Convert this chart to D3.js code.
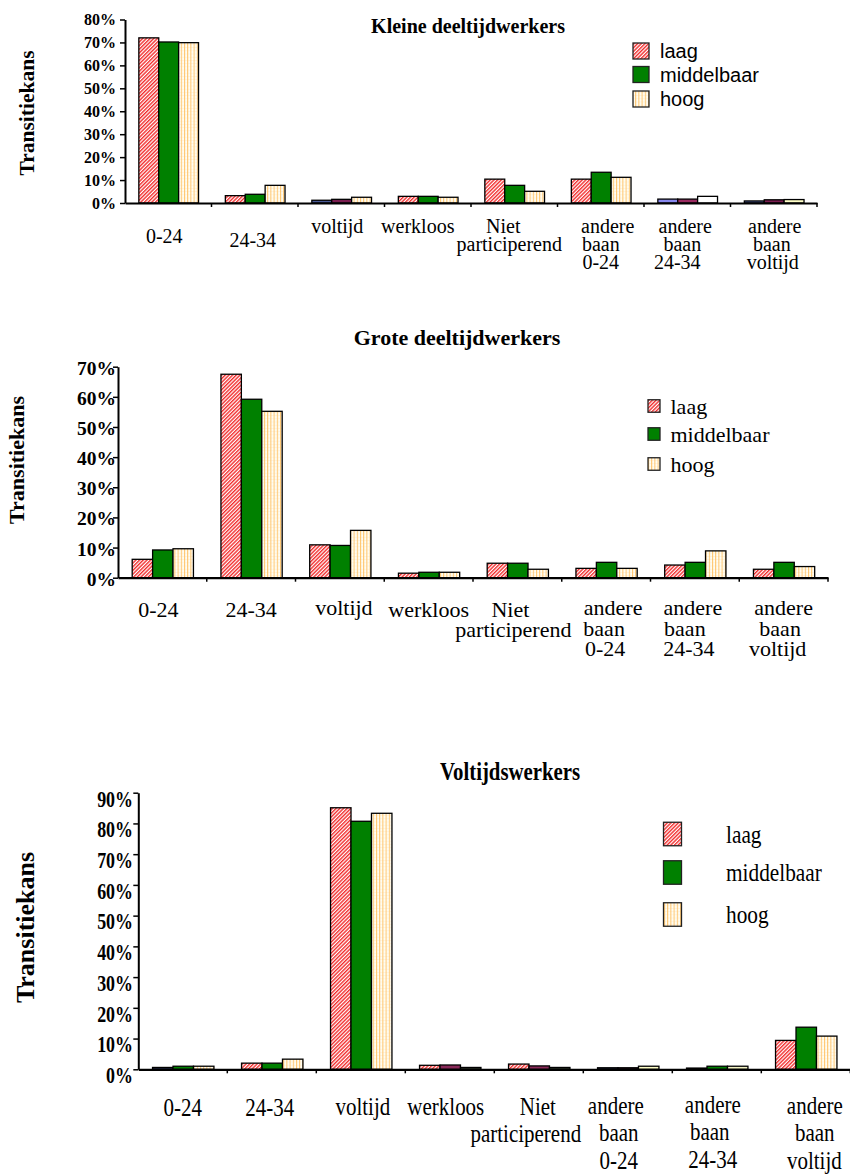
<!DOCTYPE html>
<html>
<head>
<meta charset="utf-8">
<script src="https://cdn.jsdelivr.net/npm/d3@7"></script>
<style>
  html, body { margin: 0; padding: 0; background: #fff; }
  svg { display: block; }
</style>
</head>
<body>
<svg id="chart" width="850" height="1175"></svg>
<script>
// ---------------- DATA ----------------
const categories = ["0-24", "24-34", "voltijd", "werkloos", "Niet participerend",
  "andere baan 0-24", "andere baan 24-34", "andere baan voltijd"];
const categoryLines = [["0-24"], ["24-34"], ["voltijd"], ["werkloos"], ["Niet", "participerend"],
  ["andere", "baan", "0-24"], ["andere", "baan", "24-34"], ["andere", "baan", "voltijd"]];
const seriesNames = ["laag", "middelbaar", "hoog"];

// Kleine deeltijdwerkers (%)
const kleineLaag       = [72.0, 3.2, 1.2, 2.9, 10.4, 10.4, 1.7, 0.9];
const kleineMiddelbaar = [70.2, 3.8, 1.6, 2.9,  7.7, 13.4, 1.7, 1.4];
const kleineHoog       = [69.9, 7.7, 2.5, 2.5,  5.1, 11.2, 2.9, 1.5];

// Grote deeltijdwerkers (%)
const groteLaag       = [6.1, 67.5, 10.9, 1.5, 4.8, 3.1, 4.2, 2.8];
const groteMiddelbaar = [9.2, 59.2, 10.7, 1.8, 4.8, 5.1, 5.1, 5.1];
const groteHoog       = [9.6, 55.2, 15.7, 1.8, 2.8, 3.1, 8.9, 3.7];

// Voltijdswerkers (%)
const voltijdLaag       = [0.6, 2.0, 85.1, 1.3, 1.7, 0.5, 0.4,  9.4];
const voltijdMiddelbaar = [1.0, 2.0, 80.7, 1.4, 1.1, 0.5, 1.0, 13.7];
const voltijdHoog       = [1.0, 3.3, 83.3, 0.6, 0.6, 1.0, 1.0, 10.8];

const ticksKleine  = [0, 10, 20, 30, 40, 50, 60, 70, 80];
const ticksGrote   = [0, 10, 20, 30, 40, 50, 60, 70];
const ticksVoltijd = [0, 10, 20, 30, 40, 50, 60, 70, 80, 90];

const titles = ["Kleine deeltijdwerkers", "Grote deeltijdwerkers", "Voltijdswerkers"];
const yTitle = "Transitiekans";

// ---------------- STYLE / LAYOUT ----------------
const svg = d3.select("#chart");
const defs = svg.append("defs");

// laag: red diagonal hatch
const pL = defs.append("pattern").attr("id", "patLaag").attr("patternUnits", "userSpaceOnUse")
  .attr("width", 2.6).attr("height", 2.6).attr("patternTransform", "rotate(45)");
pL.append("rect").attr("width", 2.6).attr("height", 2.6).attr("fill", "#ffffff");
pL.append("rect").attr("width", 1.4).attr("height", 2.6).attr("fill", "#f22c2c");
// hoog: cream with orange vertical lines
const pH = defs.append("pattern").attr("id", "patHoog").attr("patternUnits", "userSpaceOnUse")
  .attr("width", 3.2).attr("height", 3.2);
pH.append("rect").attr("width", 3.2).attr("height", 3.2).attr("fill", "#fffdf2");
pH.append("rect").attr("y", 2.4).attr("width", 3.2).attr("height", 0.6).attr("fill", "#fff0d6");
pH.append("rect").attr("x", 1.6).attr("width", 1).attr("height", 3.2).attr("fill", "#ffc46a");

const fills = ["url(#patLaag)", "#008000", "url(#patHoog)"];

const SERIF = "'Liberation Serif', 'Times New Roman', serif";
const SANS = "'Liberation Sans', Arial, sans-serif";

const charts = [
  {
    title: titles[0], values: [kleineLaag, kleineMiddelbaar, kleineHoog], ticks: ticksKleine,
    max: 80, x0: 125, x1: 817, yTop: 19.5, yBot: 203,
    titleX: 468, titleY: 33, titleSize: 20, titleScale: 1,
    yTitleX: 34, yTitleY: 113, yTitleSize: 21.5,
    tickSize: 16, tickScale: 1, tickEnd: 116, tickDy: 0, tickBold: true,
    labelSize: 20, labelScale: 1, lineH: 18,
    labelY: [242.5, 246.5, 233, 233, 233, 233, 233, 233],
    labelDx: [[-4], [-2], [-4], [-10], [-11, -5], [7, 0, 0], [-2, -5, -10], [1, -2, -1]],
    overrides: [[2, 0, "#4a5a96"], [2, 1, "#7a1e50"], [6, 0, "#8888ee"], [6, 1, "#9a2a60"],
                [6, 2, "#ffffff"], [7, 0, "#4a5a96"], [7, 1, "#7a1e50"], [7, 2, "#ffffc8"]],
    legend: { sx: 633, sw: 16, sh: 16, rows: [51, 74.5, 99], tx: 660, font: SANS, size: 20, scale: 1 }
  },
  {
    title: titles[1], values: [groteLaag, groteMiddelbaar, groteHoog], ticks: ticksGrote,
    max: 70, x0: 118, x1: 828, yTop: 366.7, yBot: 577.7,
    titleX: 457, titleY: 344.5, titleSize: 22, titleScale: 1,
    yTitleX: 24, yTitleY: 460, yTitleSize: 22,
    tickSize: 19.5, tickScale: 1, tickEnd: 116, tickDy: 1.5, tickBold: true,
    labelSize: 22, labelScale: 1, lineH: 20.5,
    labelY: [616.5, 616.5, 615, 616.5, 616.5, 615, 615, 615],
    labelDx: [[-4], [0], [4], [0], [-7, -4], [7, -2, -1], [-2, -10, -6], [0, -3.5, -6]],
    overrides: [],
    legend: { sx: 648, sw: 12, sh: 12.5, rows: [406, 434, 464], tx: 670.5, font: SERIF, size: 22, scale: 1 }
  },
  {
    title: titles[2], values: [voltijdLaag, voltijdMiddelbaar, voltijdHoog], ticks: ticksVoltijd,
    max: 90, x0: 138.3, x1: 850.3, yTop: 792.7, yBot: 1069.3,
    titleX: 510, titleY: 780, titleSize: 26, titleScale: 0.8,
    yTitleX: 34, yTitleY: 927.5, yTitleSize: 26,
    tickSize: 23, tickScale: 0.78, tickEnd: 133, tickDy: 6, tickBold: true,
    labelSize: 25, labelScale: 0.84, lineH: 27.5,
    labelY: [1116, 1116, 1115, 1115, 1115, 1114, 1113, 1114],
    labelDx: [[0], [-2], [2], [-4], [-1, -13], [-12, -9, -9], [-4, -7, -4], [9, 9, 8.5]],
    overrides: [[0, 0, "#303a60"], [3, 1, "#8a2a5a"], [3, 2, "#404838"], [4, 1, "#8a2a5a"],
                [4, 2, "#404838"], [5, 0, "#282e50"], [5, 1, "#3a1028"], [5, 2, "#ffffc8"],
                [6, 0, "#303a60"], [6, 2, "#f4f4c4"]],
    legend: { sx: 663.5, sw: 18, sh: 23.5, rows: [834, 872.5, 914.5], tx: 726, font: SERIF, size: 26, scale: 0.82 }
  }
];

function scaledText(g, str, x, y, opts) {
  return g.append("text")
    .attr("transform", `translate(${x},${y}) scale(${opts.scale || 1},1)`)
    .attr("font-family", opts.font || SERIF)
    .attr("font-size", opts.size)
    .attr("font-weight", opts.bold ? "bold" : "normal")
    .attr("text-anchor", opts.anchor || "start")
    .attr("fill", "#000")
    .text(str);
}

charts.forEach(cfg => {
  const g = svg.append("g");
  const x = d3.scaleBand().domain(categories).range([cfg.x0, cfg.x1]).padding(0);
  const bw = x.bandwidth();
  const xs = d3.scaleBand().domain(seriesNames).range([bw * 0.16, bw * 0.85]).padding(0);
  const y = d3.scaleLinear().domain([0, cfg.max]).range([cfg.yBot, cfg.yTop]);
  const ov = new Map(cfg.overrides.map(o => [o[0] + "_" + o[1], o[2]]));

  // bars
  seriesNames.forEach((s, si) => {
    g.append("g").selectAll("rect")
      .data(cfg.values[si].map((v, i) => ({ i, cat: categories[i], v })))
      .join("rect")
      .attr("x", d => x(d.cat) + xs(s))
      .attr("y", d => y(d.v))
      .attr("width", xs.bandwidth())
      .attr("height", d => y(0) - y(d.v))
      .attr("fill", d => ov.get(d.i + "_" + si) || fills[si])
      .attr("stroke", "#000")
      .attr("stroke-width", 1.3);
  });

  // y axis
  const yAxis = d3.axisLeft(y).tickValues(cfg.ticks).tickSize(5).tickFormat("").tickSizeOuter(0);
  const ya = g.append("g").attr("transform", `translate(${cfg.x0},0)`).call(yAxis);
  ya.select(".domain").attr("stroke", "#000").attr("stroke-width", 2);
  ya.selectAll(".tick line").attr("stroke", "#000").attr("stroke-width", 1.5);

  // x axis
  const xAxis = d3.axisBottom(x).tickValues([]).tickSizeOuter(0);
  const xa = g.append("g").attr("transform", `translate(0,${cfg.yBot})`).call(xAxis);
  xa.select(".domain").attr("stroke", "#000").attr("stroke-width", 2.2);
  const bounds = categories.map(c => x(c)).concat([cfg.x1]);
  g.append("g").selectAll("line").data(bounds.slice(1)).join("line")
    .attr("x1", d => d).attr("x2", d => d)
    .attr("y1", cfg.yBot).attr("y2", cfg.yBot + 4)
    .attr("stroke", "#000").attr("stroke-width", 1.5);

  // y tick labels
  cfg.ticks.forEach(t => {
    scaledText(g, t + "%", cfg.tickEnd, y(t) + cfg.tickDy, {
      size: cfg.tickSize, bold: cfg.tickBold, anchor: "end", scale: cfg.tickScale
    }).attr("dominant-baseline", "central");
  });

  // category labels (one text element per category, lines as tspans)
  categories.forEach((c, i) => {
    const cx = x(c) + bw / 2;
    const s = cfg.labelScale;
    const t = g.append("text")
      .attr("transform", `translate(${cx},${cfg.labelY[i]}) scale(${s},1)`)
      .attr("font-family", SERIF).attr("font-size", cfg.labelSize)
      .attr("text-anchor", "middle").attr("fill", "#000");
    categoryLines[i].forEach((ln, li) => {
      const dx = cfg.labelDx[i][li] !== undefined ? cfg.labelDx[i][li] : cfg.labelDx[i][0];
      t.append("tspan").attr("x", dx / s).attr("y", li * cfg.lineH).text(ln);
    });
  });

  // title
  scaledText(g, cfg.title, cfg.titleX, cfg.titleY, {
    size: cfg.titleSize, bold: true, anchor: "middle", scale: cfg.titleScale
  });

  // y title
  g.append("text")
    .attr("transform", `translate(${cfg.yTitleX},${cfg.yTitleY}) rotate(-90)`)
    .attr("font-family", SERIF).attr("font-size", cfg.yTitleSize).attr("font-weight", "bold")
    .attr("text-anchor", "middle").text(yTitle);

  // legend
  const L = cfg.legend;
  seriesNames.forEach((s, si) => {
    g.append("rect")
      .attr("x", L.sx).attr("y", L.rows[si] - L.sh / 2)
      .attr("width", L.sw).attr("height", L.sh)
      .attr("fill", fills[si]).attr("stroke", "#222").attr("stroke-width", 1.3);
    scaledText(g, s, L.tx, L.rows[si], { size: L.size, font: L.font, scale: L.scale })
      .attr("dominant-baseline", "central");
  });
});
</script>
</body>
</html>
